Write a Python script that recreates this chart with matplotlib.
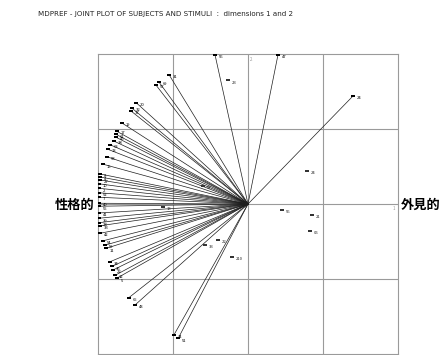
import matplotlib.pyplot as plt

plt.rcParams['font.family'] = ['Noto Sans CJK JP', 'DejaVu Sans']

# subject vectors (dimension 1, dimension 2)
subj_labels = ['56', '47', '24', '31', '69', '57', '20', '32', '37', '19',
               '17', '61', '46', '38', '63', '13', '58', '15', '8', '4',
               '27', '10', '2', '52', '7', '40', '55', '41', '39', '28',
               '33', '42', '54', '59', '11', '34', '36', '22', '12', '5',
               '65', '43', '14', '51']
subj_x = [-0.44, 0.40, 1.40, -1.05, -1.19, -1.23, -1.49, -1.55, -1.56, -1.68,
          -1.75, -1.76, -1.76, -1.79, -1.84, -1.87, -1.88, -1.93, -1.97, -1.97,
          -1.97, -1.99, -1.99, -1.99, -1.99, -1.99, -1.99, -1.99, -1.99, -1.99,
          -1.97, -1.97, -1.93, -1.91, -1.89, -1.84, -1.81, -1.80, -1.77, -1.75,
          -1.59, -1.51, -0.99, -0.93]
subj_y = [1.99, 1.99, 1.44, 1.72, 1.63, 1.59, 1.35, 1.28, 1.24, 1.08,
          0.97, 0.93, 0.89, 0.84, 0.79, 0.73, 0.63, 0.53, 0.40, 0.36,
          0.32, 0.27, 0.21, 0.15, 0.09, 0.01, -0.03, -0.12, -0.19, -0.25,
          -0.29, -0.39, -0.49, -0.55, -0.59, -0.77, -0.83, -0.88, -0.95, -0.99,
          -1.25, -1.35, -1.75, -1.79]

# stimulus points
stim_labels = ['23', '24', '56', '21', '06', '22', '33', '210', '57', '13']
stim_x = [-0.27, 0.79, 0.45, 0.85, 0.83, -0.40, -0.57, -0.21, -0.60, -1.13]
stim_y = [1.65, 0.44, -0.08, -0.15, -0.36, -0.48, -0.55, -0.71, 0.24, -0.04]

# small flat block used as point marker
block = [(-1.6, -0.8), (1.6, -0.8), (1.6, 0.8), (-1.6, 0.8)]

fig = plt.figure(figsize=(4.45, 3.55), dpi=100)
ax = fig.add_axes([98 / 445, 1 / 355, 300 / 445, 300 / 355])
ax.set_xlim(-2, 2)
ax.set_ylim(-2, 2)

for v in [-1, 0, 1]:
    ax.axvline(v, color='#9a9a9a', lw=0.8, zorder=1)
    ax.axhline(v, color='#9a9a9a', lw=0.8, zorder=1)
for s in ax.spines.values():
    s.set_color('#9a9a9a')
    s.set_linewidth(0.8)
ax.set_xticks([])
ax.set_yticks([])

for x, y, lab in zip(subj_x, subj_y, subj_labels):
    ax.plot([0, x], [0, y], color='#1e1e1e', lw=0.5, zorder=2)
    ax.plot(x, y, marker=block, ms=3.2, color='black', mew=0, zorder=3)
    ax.text(x + 0.05, y - 0.03, lab, fontsize=3.0, color='black',
            ha='left', va='center', zorder=4)

for x, y, lab in zip(stim_x, stim_y, stim_labels):
    ax.plot(x, y, marker=block, ms=3.0, color='#333333', mew=0, zorder=3)
    ax.text(x + 0.05, y - 0.03, lab, fontsize=3.0, color='#222222',
            ha='left', va='center', zorder=4)

# axis end markers
ax.text(0.03, 1.93, '2', fontsize=3.2, color='#999999', ha='left', va='center')
ax.text(1.93, -0.06, '1', fontsize=3.2, color='#999999', ha='left', va='center')

fig.text(38 / 445, 1 - 14 / 355,
         'MDPREF - JOINT PLOT OF SUBJECTS AND STIMULI  :  dimensions 1 and 2',
         fontsize=5.1, color='#222222', ha='left', va='center',
         family='DejaVu Sans')
fig.text(75 / 445, 1 - 205 / 355, '性格的', fontsize=9.5, fontweight='bold',
         ha='center', va='center')
fig.text(421 / 445, 1 - 205 / 355, '外見的', fontsize=9.5, fontweight='bold',
         ha='center', va='center')

fig.savefig('out.png', dpi=100, facecolor='white')
